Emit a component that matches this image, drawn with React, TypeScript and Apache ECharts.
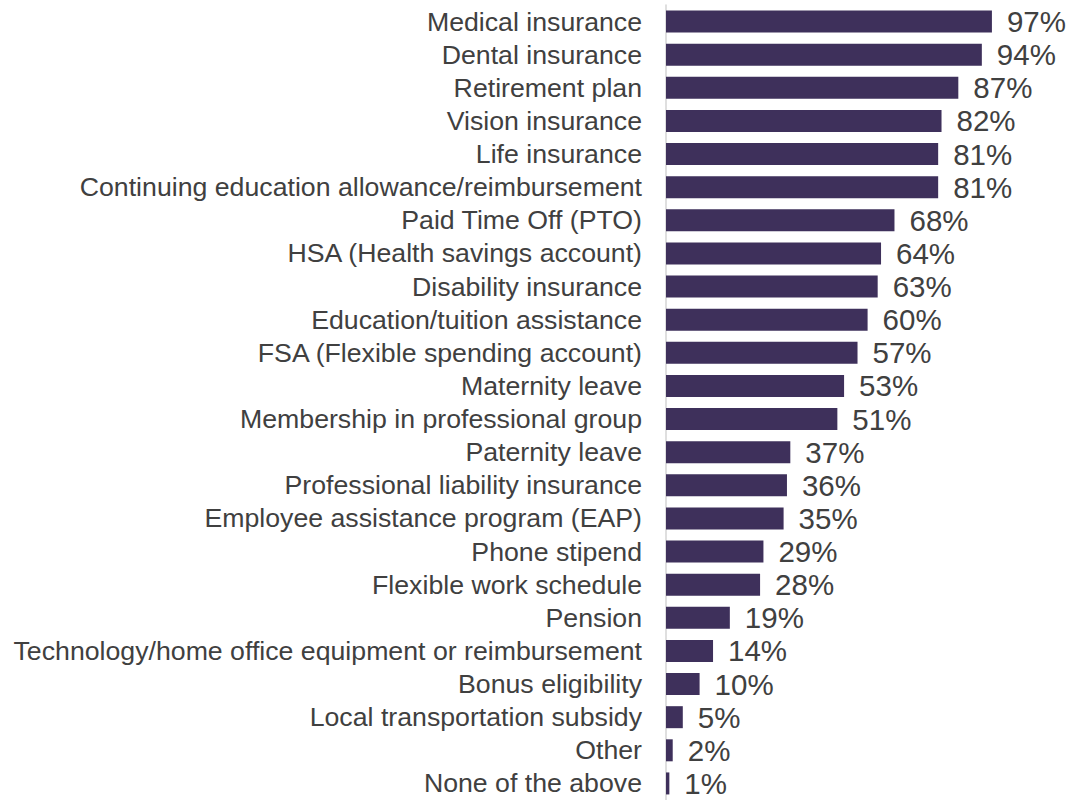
import React, { useEffect, useRef } from "react";
import * as echarts from "echarts";

const categories = [
  "Medical insurance",
  "Dental insurance",
  "Retirement plan",
  "Vision insurance",
  "Life insurance",
  "Continuing education allowance/reimbursement",
  "Paid Time Off (PTO)",
  "HSA (Health savings account)",
  "Disability insurance",
  "Education/tuition assistance",
  "FSA (Flexible spending account)",
  "Maternity leave",
  "Membership in professional group",
  "Paternity leave",
  "Professional liability insurance",
  "Employee assistance program (EAP)",
  "Phone stipend",
  "Flexible work schedule",
  "Pension",
  "Technology/home office equipment or reimbursement",
  "Bonus eligibility",
  "Local transportation subsidy",
  "Other",
  "None of the above",
];

const values = [97, 94, 87, 82, 81, 81, 68, 64, 63, 60, 57, 53, 51, 37, 36, 35, 29, 28, 19, 14, 10, 5, 2, 1];

export default function App() {
  const ref = useRef<HTMLDivElement>(null);
  useEffect(() => {
    if (!ref.current) return;
    const chart = echarts.init(ref.current, undefined, { renderer: "svg" });
    const font = "'Liberation Sans', Arial, Helvetica, sans-serif";
    chart.setOption({
      animation: false,
      grid: { left: 666, right: 69, top: 5, bottom: 0, containLabel: false },
      xAxis: {
        type: "value",
        min: 0,
        max: 100,
        show: false,
      },
      yAxis: {
        type: "category",
        data: categories,
        inverse: true,
        axisTick: { show: false },
        axisLine: { show: true, lineStyle: { color: "#d4d4d4", width: 1.5 } },
        axisLabel: {
          interval: 0,
          color: "#404040",
          fontSize: 26.7,
          fontFamily: font,
          margin: 24,
        },
        splitLine: { show: false },
      },
      series: [
        {
          type: "bar",
          data: values,
          barWidth: 22,
          itemStyle: { color: "#3e305b" },
          label: {
            show: true,
            position: "right",
            distance: 15,
            formatter: "{c}%",
            color: "#404040",
            fontSize: 29.5,
            fontFamily: font,
          },
        },
      ],
    });
    return () => chart.dispose();
  }, []);
  return (
    <div
      ref={ref}
      style={{ position: "fixed", left: 0, top: 0, width: 1071, height: 800, background: "#fff" }}
    />
  );
}
